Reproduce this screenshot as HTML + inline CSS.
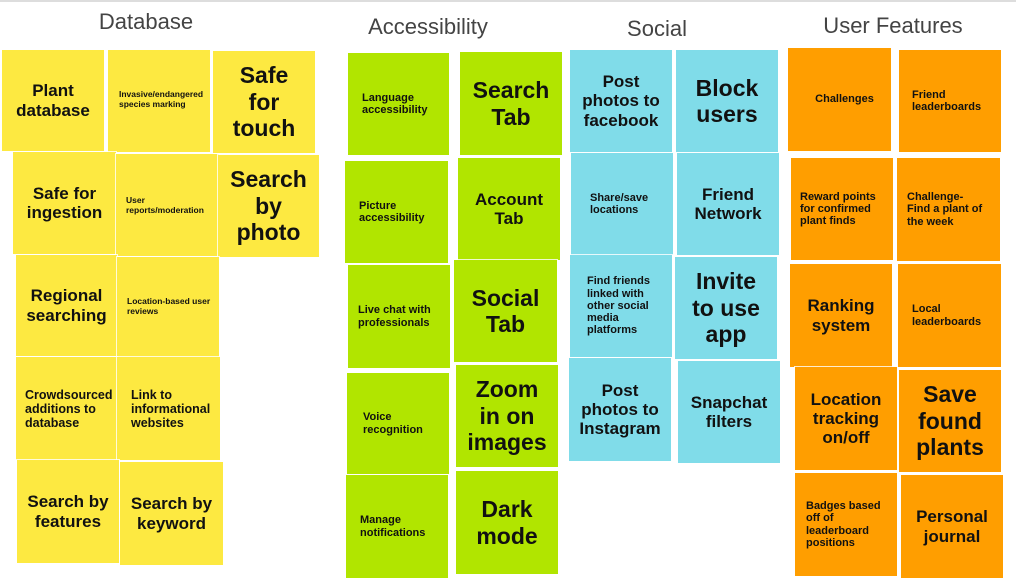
<!DOCTYPE html>
<html><head><meta charset="utf-8"><style>
body{margin:0;width:1016px;height:585px;background:#fff;position:relative;overflow:hidden;font-family:"Liberation Sans",sans-serif;}
.h{position:absolute;font-size:22px;color:#444;transform:translateX(-50%);white-space:nowrap;}
.n{position:absolute;display:flex;align-items:center;justify-content:center;text-align:center;font-weight:bold;color:#111;box-sizing:border-box;padding:4px;line-height:1.12;box-shadow:0 0 0 1px rgba(255,255,255,0.8);}
.y{background:#fde941}.g{background:#b1e500}.c{background:#80dce9}.o{background:#ff9e00}
.s{font-size:11px;text-align:left;justify-content:flex-start;padding-left:14px}
.xs{font-size:8.5px;text-align:left;justify-content:flex-start;padding-left:10px;align-items:flex-start;padding-top:40px}
.m{font-size:17px}.l{font-size:23px;line-height:1.15}.sm{font-size:12.5px;text-align:left;justify-content:flex-start;padding-left:10px}
</style></head><body>
<div style="position:absolute;left:0;top:0;width:1016px;height:2px;background:#ddd"></div>
<div class="h" style="left:146px;top:9px">Database</div>
<div class="h" style="left:428px;top:14px">Accessibility</div>
<div class="h" style="left:657px;top:16px">Social</div>
<div class="h" style="left:893px;top:13px">User Features</div>

<div class="n y m" style="left:2px;top:50px;width:102px;height:101px">Plant<br>database</div>
<div class="n y xs" style="left:108px;top:50px;width:102px;height:102px;padding-left:11px">Invasive/endangered species marking</div>
<div class="n y l" style="left:213px;top:51px;width:102px;height:102px">Safe<br>for<br>touch</div>
<div class="n y m" style="left:13px;top:152px;width:103px;height:102px">Safe for ingestion</div>
<div class="n y xs" style="left:116px;top:154px;width:103px;height:102px;padding-top:42px">User<br>reports/moderation</div>
<div class="n y l" style="left:218px;top:155px;width:101px;height:102px">Search<br>by<br>photo</div>
<div class="n y m" style="left:16px;top:255px;width:101px;height:101px">Regional searching</div>
<div class="n y xs" style="left:117px;top:257px;width:102px;height:100px;padding-top:40px">Location-based user reviews</div>
<div class="n y sm" style="left:16px;top:357px;width:101px;height:103px;padding-left:9px">Crowdsourced additions to database</div>
<div class="n y sm" style="left:117px;top:357px;width:103px;height:103px;padding-left:14px">Link to informational websites</div>
<div class="n y m" style="left:17px;top:460px;width:102px;height:103px">Search by features</div>
<div class="n y m" style="left:120px;top:462px;width:103px;height:103px">Search by keyword</div>

<div class="n g s" style="left:348px;top:53px;width:101px;height:102px">Language accessibility</div>
<div class="n g l" style="left:460px;top:52px;width:102px;height:103px">Search<br>Tab</div>
<div class="n g s" style="left:345px;top:161px;width:103px;height:102px">Picture accessibility</div>
<div class="n g m" style="left:458px;top:158px;width:102px;height:102px">Account<br>Tab</div>
<div class="n g s" style="left:348px;top:265px;width:102px;height:103px;padding-left:10px">Live chat with professionals</div>
<div class="n g l" style="left:454px;top:260px;width:103px;height:102px">Social<br>Tab</div>
<div class="n g s" style="left:347px;top:373px;width:102px;height:101px;padding-left:16px">Voice recognition</div>
<div class="n g l" style="left:456px;top:365px;width:102px;height:102px">Zoom<br>in on<br>images</div>
<div class="n g s" style="left:346px;top:475px;width:102px;height:103px">Manage notifications</div>
<div class="n g l" style="left:456px;top:471px;width:102px;height:103px">Dark<br>mode</div>

<div class="n c m" style="left:570px;top:50px;width:102px;height:102px">Post<br>photos to<br>facebook</div>
<div class="n c l" style="left:676px;top:50px;width:102px;height:102px">Block<br>users</div>
<div class="n c s" style="left:571px;top:153px;width:102px;height:102px;padding-left:19px">Share/save locations</div>
<div class="n c m" style="left:677px;top:153px;width:102px;height:102px">Friend<br>Network</div>
<div class="n c s" style="left:570px;top:255px;width:102px;height:102px;padding-left:17px">Find friends linked with other social media platforms</div>
<div class="n c l" style="left:675px;top:257px;width:102px;height:102px">Invite<br>to use<br>app</div>
<div class="n c m" style="left:569px;top:358px;width:102px;height:103px">Post<br>photos to<br>Instagram</div>
<div class="n c m" style="left:678px;top:361px;width:102px;height:102px">Snapchat<br>filters</div>

<div class="n o s" style="left:788px;top:48px;width:103px;height:103px;justify-content:center">Challenges</div>
<div class="n o s" style="left:899px;top:50px;width:102px;height:102px;padding-left:13px">Friend<br>leaderboards</div>
<div class="n o s" style="left:791px;top:158px;width:102px;height:102px;padding-left:9px">Reward points for confirmed plant finds</div>
<div class="n o s" style="left:897px;top:158px;width:103px;height:103px;padding-left:10px">Challenge-<br>Find a plant of the week</div>
<div class="n o m" style="left:790px;top:264px;width:102px;height:103px">Ranking<br>system</div>
<div class="n o s" style="left:898px;top:264px;width:103px;height:103px;padding-left:14px">Local<br>leaderboards</div>
<div class="n o m" style="left:795px;top:367px;width:102px;height:103px">Location<br>tracking<br>on/off</div>
<div class="n o l" style="left:899px;top:370px;width:102px;height:102px">Save<br>found<br>plants</div>
<div class="n o s" style="left:795px;top:473px;width:102px;height:103px;padding-left:11px">Badges based off of leaderboard positions</div>
<div class="n o m" style="left:901px;top:475px;width:102px;height:103px">Personal<br>journal</div>
</body></html>
